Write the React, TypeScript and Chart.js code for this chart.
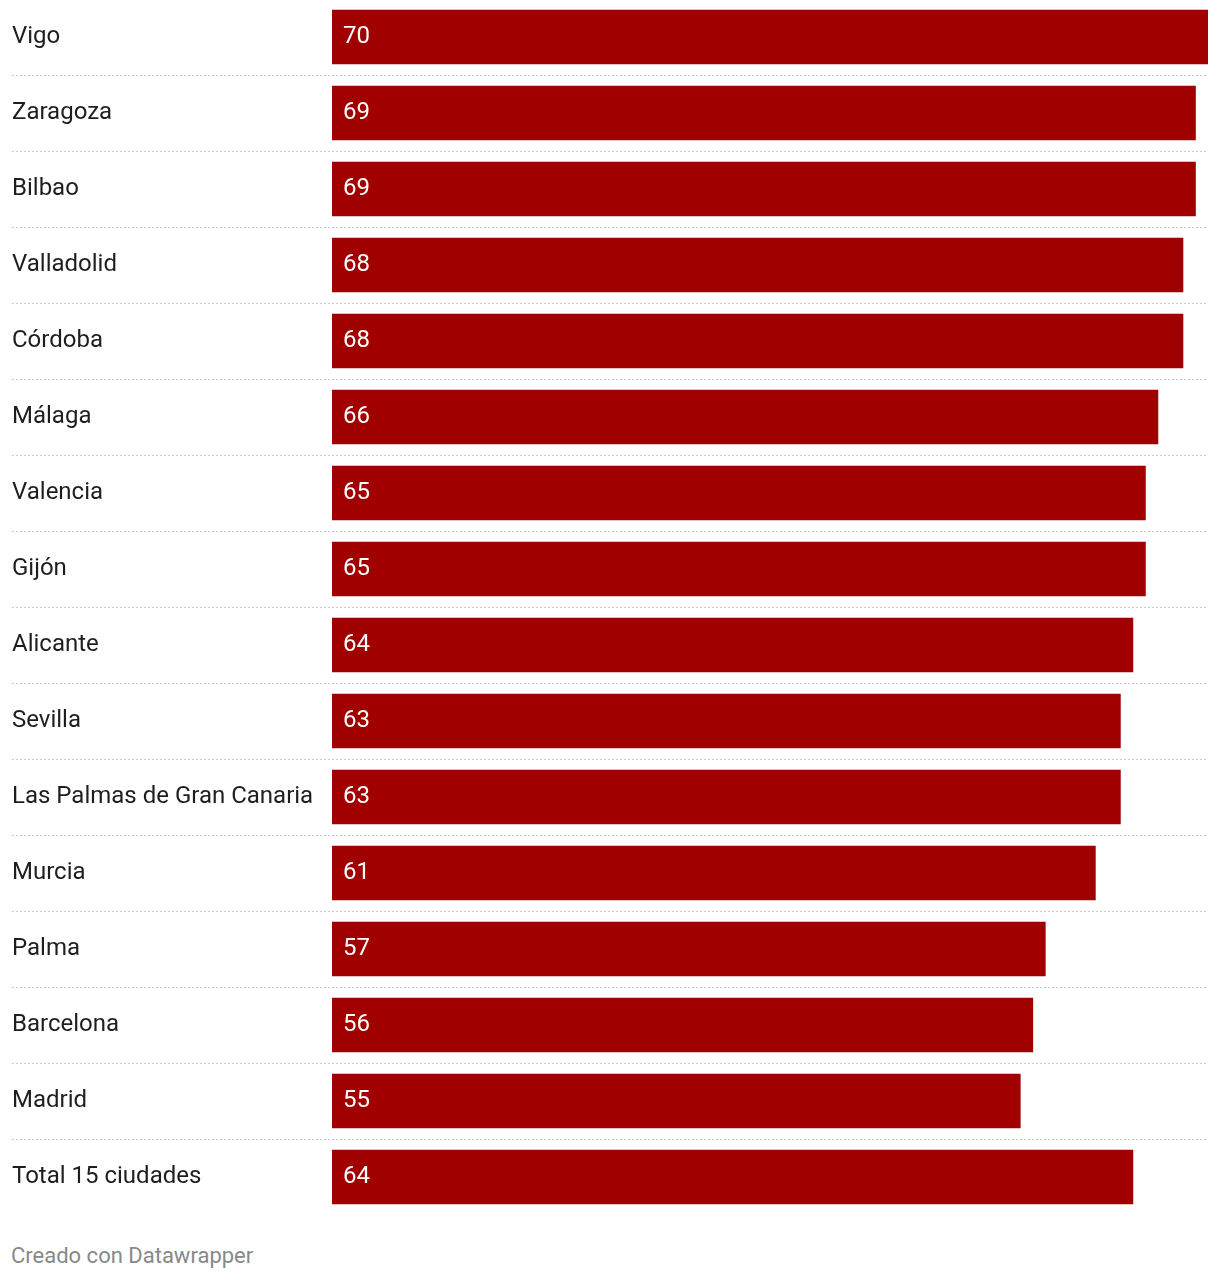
import React, { useEffect, useRef } from "react";
import { Chart, registerables } from "chart.js";

Chart.register(...registerables);

const categories: string[] = [
  "Vigo",
  "Zaragoza",
  "Bilbao",
  "Valladolid",
  "Córdoba",
  "Málaga",
  "Valencia",
  "Gijón",
  "Alicante",
  "Sevilla",
  "Las Palmas de Gran Canaria",
  "Murcia",
  "Palma",
  "Barcelona",
  "Madrid",
  "Total 15 ciudades",
];

const values: number[] = [70, 69, 69, 68, 68, 66, 65, 65, 64, 63, 63, 61, 57, 56, 55, 64];

const axisMin = 0;
const axisMax = 70;
const footerText = "Creado con Datawrapper";

const BAR_COLOR = "#a00000";
const FONT = "Roboto";

const rowDecor = {
  id: "rowDecor",
  beforeDatasetsDraw(chart: any) {
    const ctx = chart.ctx;
    const y = chart.scales.y;
    const n = categories.length;
    ctx.save();
    ctx.strokeStyle = "#cccccc";
    ctx.lineWidth = 1;
    ctx.setLineDash([2, 2]);
    for (let i = 0; i < n - 1; i++) {
      const py = Math.round((y.getPixelForValue(i) + y.getPixelForValue(i + 1)) / 2) + 0.5;
      ctx.beginPath();
      ctx.moveTo(12, py);
      ctx.lineTo(chart.chartArea.right, py);
      ctx.stroke();
    }
    ctx.restore();
  },
  afterDatasetsDraw(chart: any) {
    const ctx = chart.ctx;
    const meta = chart.getDatasetMeta(0);
    ctx.save();
    ctx.fillStyle = "#ffffff";
    ctx.font = `24px ${FONT}`;
    ctx.textAlign = "left";
    ctx.textBaseline = "middle";
    meta.data.forEach((bar: any, i: number) => {
      const v = chart.data.datasets[0].data[i];
      ctx.fillText(String(v), bar.base + 11, bar.y);
    });
    ctx.restore();
  },
};

export default function App() {
  const ref = useRef<HTMLCanvasElement | null>(null);

  useEffect(() => {
    if (!ref.current) return;
    const chart = new Chart(ref.current, {
      type: "bar",
      data: {
        labels: categories,
        datasets: [
          {
            data: values,
            backgroundColor: BAR_COLOR,
            borderWidth: 0,
            barThickness: 54,
          },
        ],
      },
      options: {
        indexAxis: "y",
        animation: false,
        responsive: false,
        maintainAspectRatio: false,
        layout: { padding: { left: 12, right: 12, top: 0, bottom: 0 } },
        plugins: {
          legend: { display: false },
          tooltip: { enabled: false },
          title: { display: false },
        },
        scales: {
          x: {
            display: false,
            min: axisMin,
            max: axisMax,
          },
          y: {
            grid: { display: false },
            border: { display: false },
            ticks: {
              crossAlign: "far",
              color: "#1e1e1e",
              font: { family: FONT, size: 24 },
              padding: 0,
            },
            afterFit(scale: any) {
              scale.width = 320;
              scale.paddingTop = 0;
              scale.paddingBottom = 0;
            },
          },
        },
      },
      plugins: [rowDecor],
    });
    return () => chart.destroy();
  }, []);

  return (
    <div style={{ position: "absolute", left: 0, top: -1, width: 1220, height: 1281, background: "#fff" }}>
      <canvas ref={ref} width={1220} height={1216} style={{ display: "block", width: 1220, height: 1216 }} />
      <div
        style={{
          position: "absolute",
          left: 11,
          top: 1244,
          fontFamily: FONT,
          fontSize: 22,
          lineHeight: "26px",
          color: "#888888",
        }}
      >
        {footerText}
      </div>
    </div>
  );
}
